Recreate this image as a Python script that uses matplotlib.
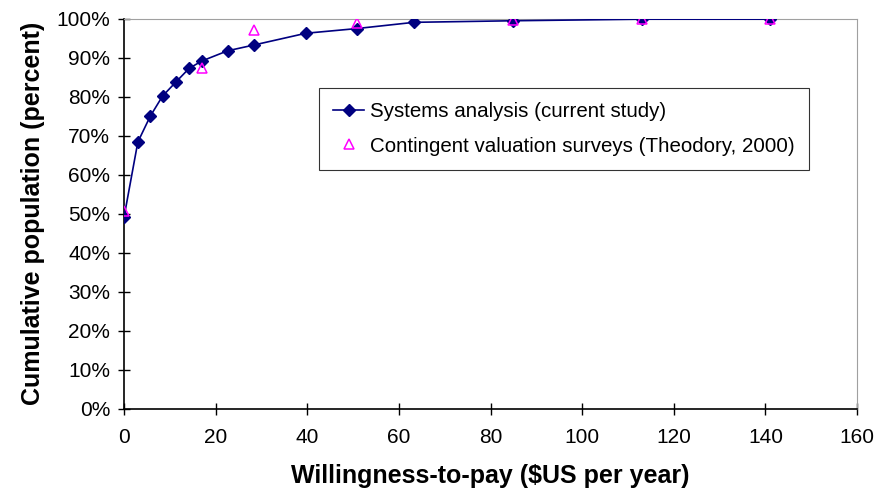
import matplotlib
matplotlib.use("Agg")
from matplotlib import pyplot as plt
from matplotlib.ticker import FuncFormatter

# systems analysis (current study)
wtp_model = [0, 3.0, 5.7, 8.4, 11.4, 14.2, 17.0, 22.6, 28.4, 39.7, 50.8, 63.3, 84.8, 113.0, 141.0]
pop_model = [49.2, 68.4, 75.0, 80.2, 83.9, 87.3, 89.2, 91.8, 93.3, 96.3, 97.5, 99.1, 99.5, 99.9, 99.9]

# contingent valuation surveys (Theodory, 2000)
wtp_survey = [0, 17.0, 28.3, 50.8, 84.8, 113.0, 141.0]
pop_survey = [50.6, 87.4, 97.2, 99.0, 99.7, 100.0, 100.0]

x_ticks = list(range(0, 161, 20))
y_ticks = list(range(0, 101, 10))

plt.rcParams['font.family'] = ['Liberation Sans', 'DejaVu Sans']

fig = plt.figure(figsize=(8.8, 4.95), dpi=100)
ax = fig.add_axes([0.141, 0.174, 0.833, 0.788])

ax.plot(wtp_model, pop_model, color="#000080", lw=1.2, marker="D", ms=6,
        label="Systems analysis (current study)", zorder=3)
ax.plot(wtp_survey, pop_survey, ls="none", marker="^", ms=7.5, mfc="none",
        mec="#ff00ff", mew=1.1, label="Contingent valuation surveys (Theodory, 2000)",
        zorder=4)

ax.set_xlim(0, 160)
ax.set_ylim(0, 100)
ax.set_xticks(x_ticks)
ax.set_yticks(y_ticks)
ax.yaxis.set_major_formatter(FuncFormatter(lambda v, p: f"{v:.0f}%"))
ax.tick_params(direction="inout", length=8, width=1, labelsize=15, pad=6)
ax.tick_params(axis="x", pad=10)

for s in ["top", "right"]:
    ax.spines[s].set_color("#a0a0a0")
for s in ["left", "bottom"]:
    ax.spines[s].set_linewidth(1.2)

ax.set_xlabel("Willingness-to-pay ($US per year)", fontsize=18, fontweight="bold", labelpad=12)
ax.set_ylabel("Cumulative population (percent)", fontsize=18, fontweight="bold", labelpad=8)

leg = ax.legend(loc="upper left", bbox_to_anchor=(0.266, 0.823), fontsize=14.8,
                frameon=True, fancybox=False, edgecolor="black", borderpad=0.7,
                labelspacing=0.75, handlelength=1.5, handletextpad=0.3,
                borderaxespad=0)
leg.get_frame().set_linewidth(0.8)

fig.savefig("out.png", dpi=100)
